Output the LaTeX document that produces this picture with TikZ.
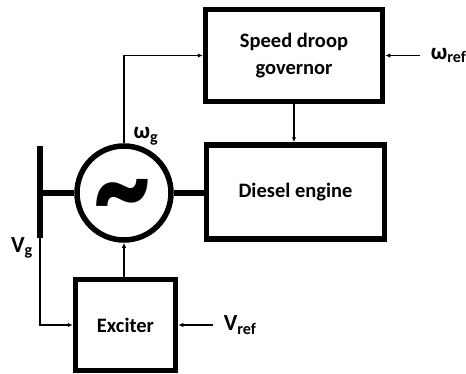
\documentclass[tikz,border=0pt]{standalone}
\usepackage{fontspec}
\setmainfont{Carlito}
\usepackage{tikz}
\usetikzlibrary{arrows.meta,positioning,calc}

\tikzset{
	block/.style={draw, line width=5.5pt, align=center, inner sep=0pt,
		font=\bfseries\fontsize{20.5}{27}\selectfont},
	power/.style={line width=5.5pt},
	signal/.style={line width=1.3pt, -{Latex[length=5pt,width=4.5pt]}},
	sig/.style={font=\bfseries\fontsize{23}{24}\selectfont}
}

\begin{document}
\begin{tikzpicture}[x=1pt,y=1pt]
	\useasboundingbox (0,0) rectangle (466,373);
	
	% blocks
	\node[block, minimum width=177pt, minimum height=92pt] (gov) at (294,317.5) {Speed droop\\governor};
	\node[block, minimum width=178pt, minimum height=94pt] (eng) at (295.5,181) {Diesel engine};
	\node[block, minimum width=100pt, minimum height=91pt] (exc) at (125.5,48) {Exciter};
	
	% generator with bus
	\node[draw, circle, line width=5.5pt, minimum size=94pt, inner sep=0pt] (gen) at (124,180) {};
	\node[inner sep=0pt, anchor=base] (tilde) at (122,140)
		{\smash{\scalebox{1}[1.3]{\fontsize{112}{112}\selectfont\bfseries\textasciitilde}}};
	\coordinate (bustop) at (40,227);
	\coordinate (busbot) at (40,135);
	\coordinate (busmid) at (40,180);
	\draw[power] (bustop) -- (busbot);
	\draw[power] (busmid) -- (gen.west);
	\draw[power] (gen.east) -- (eng.west |- gen.east);
	
	% signals
	\draw[signal] (gen.north) |- (gov.west);
	\draw[signal] (gov.south) -- (gov.south |- eng.north);
	\coordinate[right=35pt of gov.east] (wref);
	\draw[signal] (wref) -- (gov.east);
	\draw[signal] (busbot) |- (exc.west);
	\coordinate[right=35pt of exc.east] (vref);
	\draw[signal] (vref) -- (exc.east);
	\draw[signal] (gen.south |- exc.north) -- (gen.south);
	
	% labels
	\node[sig] (wg) at (146,237) {ω\textsubscript{g}};
	\node[sig, anchor=west, right=7pt of wref] (wreflbl) {ω\textsubscript{ref}};
	\node[sig] (vg) at (22,125) {V\textsubscript{g}};
	\node[sig, anchor=west, right=7pt of vref] (vreflbl) {V\textsubscript{ref}};
\end{tikzpicture}
\end{document}
